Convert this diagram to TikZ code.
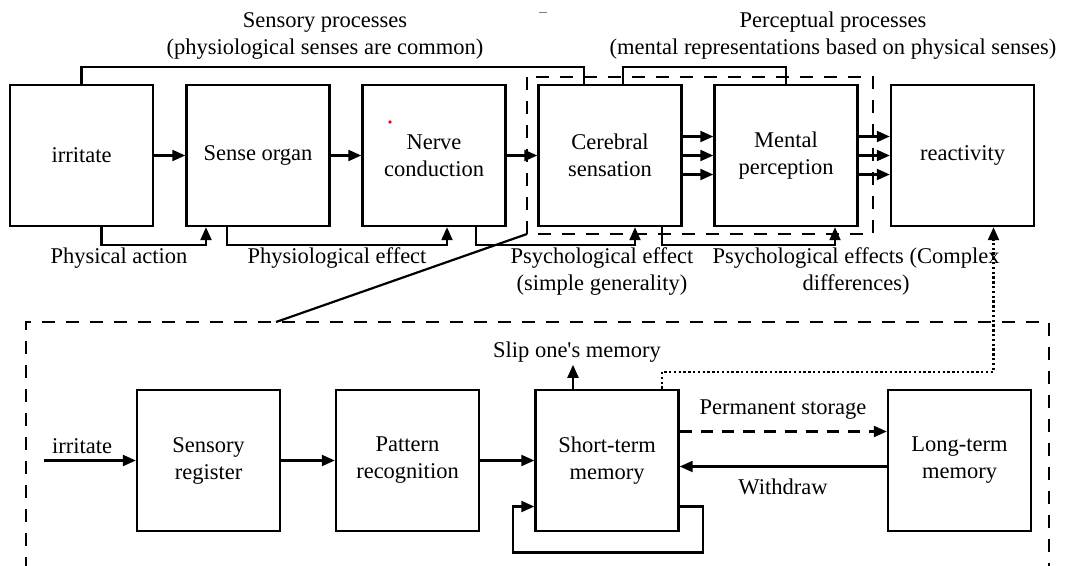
\documentclass[tikz,border=0pt]{standalone}
\usepackage{fontspec}
\setmainfont{Liberation Serif}
\usetikzlibrary{arrows.meta}

\tikzset{
  box/.style={draw,line width=2.4pt,minimum width=143pt,minimum height=141pt,align=center,inner sep=0pt},
  arr/.style={line width=2.2pt,-{Triangle[length=13pt,width=11pt]}},
  dashbox/.style={line width=2.4pt,dash pattern=on 13pt off 11pt},
  dasharr/.style={arr,dash pattern=on 12pt off 9pt},
  dotarr/.style={arr,dash pattern=on 2.4pt off 2.4pt},
  brk/.style={line width=2.2pt},
  lbl/.style={align=center,inner sep=0pt}
}

\begin{document}
\begin{tikzpicture}[x=1pt,y=-1pt,font=\fontsize{22.5}{27}\selectfont]
\useasboundingbox[fill=white] (0,0) rectangle (1065,565);
% top row
\node[box] (irr) at (81.5,155.5) {irritate};
\node[box] (sense) at (258,155.5) {Sense organ};
\node[box] (nerve) at (434,155.5) {Nerve\\conduction};
\node[box] (cereb) at (610,155.5) {Cerebral\\sensation};
\node[box] (mental) at (786,155.5) {Mental\\perception};
\node[box] (react) at (962.5,155.5) {reactivity};
% stray marks
\fill[red] (390,122) circle (1.8pt);
\draw[gray,line width=0.8pt] (539,12) -- (547,12);
% arrows along the row
\draw[arr] (irr) -- (sense);
\draw[arr] (sense) -- (nerve);
\draw[arr] (nerve) -- (cereb);
\foreach \dy in {-19,0,19}{
  \draw[arr] ([yshift=\dy pt]cereb.east) -- ([yshift=\dy pt]mental.west);
  \draw[arr] ([yshift=\dy pt]mental.east) -- ([yshift=\dy pt]react.west);
}
% brackets above
\draw[brk] (irr.north) -- ++(0,-17) -| ([xshift=-26pt]cereb.north);
\draw[brk] ([xshift=13pt]cereb.north) -- ++(0,-17) -| (mental.north);
\node[lbl] (senslbl) at (325,35.5) {Sensory processes\\(physiological senses are common)};
\node[lbl] (perclbl) at (833,35.5) {Perceptual processes\\(mental representations based on physical senses)};
% brackets below
\draw[arr] ([xshift=20pt]irr.south) -- ++(0,18) -| ([xshift=-52pt]sense.south);
\draw[arr] ([xshift=-31pt]sense.south) -- ++(0,18) -| ([xshift=13pt]nerve.south);
\draw[arr] ([xshift=42pt]nerve.south) -- ++(0,18) -| ([xshift=25pt]cereb.south);
\draw[arr] ([xshift=52pt]cereb.south) -- ++(0,18) -| ([xshift=49pt]mental.south);
\node[lbl] (physlbl) at (119,258) {Physical action};
\node[lbl] (physiolbl) at (337,258) {Physiological effect};
\node[lbl] (psylbl) at (602,271.5) {Psychological effect\\(simple generality)};
\node[lbl] (cplxlbl) at (856,271.5) {Psychological effects (Complex\\differences)};
% dashed frame round perception
\draw[dashbox] (527,77) rectangle (873,234);
\coordinate (percsw) at (527,234);
\coordinate (zoomtop) at (276,322);
\draw[brk] (percsw) -- (zoomtop);
% memory model
\draw[dashbox] (26,570) |- (1049,322) -- (1049,570);
\node[box] (reg) at (208.5,460.5) {Sensory\\register};
\node[box] (pattern) at (407.5,460.5) {Pattern\\recognition};
\node[box] (stm) at (607,460.5) {Short-term\\memory};
\node[box] (ltm) at (959.5,460.5) {Long-term\\memory};
\coordinate (inp) at (44,460.5);
\draw[arr] (inp) -- (reg);
\node[lbl] (inplbl) at (82,446) {irritate};
\draw[arr] (reg) -- (pattern);
\draw[arr] (pattern) -- (stm);
\draw[arr] ([xshift=-34pt]stm.north) -- ++(0,-24);
\node[lbl] (sliplbl) at (577,352) {Slip one\textquotesingle s memory};
\draw[dasharr] ([yshift=29pt]stm.east) -- ([yshift=29pt]ltm.west);
\node[lbl] (permlbl) at (783,410) {Permanent storage};
\draw[arr] ([yshift=-6pt]ltm.west) -- ([yshift=-6pt]stm.east);
\node[lbl] (wdlbl) at (783,487) {Withdraw};
\draw[arr] ([yshift=-46pt]stm.east) -| ++(23,46) -| ([xshift=-21pt,yshift=-46pt]stm.west) -- ([yshift=-46pt]stm.west);
\draw[dotarr] ([xshift=55pt]stm.north) -- ++(0,-17) -| ([xshift=31pt]react.south);
\end{tikzpicture}
\end{document}
